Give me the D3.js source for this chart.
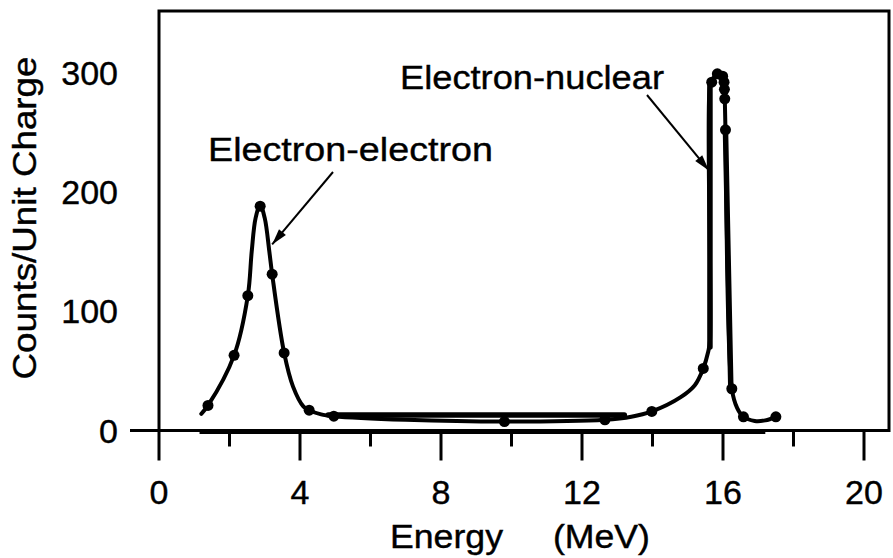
<!DOCTYPE html>
<html lang="en">
    <head>
        <meta charset="utf-8">
        <title>Energy spectrum</title>
        <script type="text/javascript" src="https://cdn.jsdelivr.net/npm/d3@7/dist/d3.min.js"></script>
        <style type="text/css">
            body { margin: 0; background: #fff; }
            text { font-family: "Liberation Sans", Arial, Helvetica, sans-serif; fill: #000; stroke: #000; stroke-width: 0.4; }
            .frame { fill: none; stroke: #000; stroke-width: 3; }
            .curve { fill: none; stroke: #000; stroke-width: 4; stroke-linejoin: round; stroke-linecap: round; }
            .thick { fill: none; stroke: #000; stroke-width: 5.5; stroke-linecap: round; }
            .arrow { stroke: #000; stroke-width: 2; }
        </style>
    </head>
    <body>

        <script type="text/javascript">

        //Width and height
        var w = 893;
        var h = 558;

        //measured points (dots)
        var dotEnergy = [1.39, 2.13, 2.52, 2.87, 3.21, 3.55, 4.26, 4.96, 9.8, 12.65, 13.98, 15.44,
                         15.68, 15.84, 15.99, 16.03, 16.04, 16.05, 16.07, 16.25, 16.58, 17.5];
        var dotCounts = [21, 63, 113, 188, 131, 65, 17, 12, 7.5, 9, 16, 52,
                         292, 299, 297, 292, 286, 278, 252, 35, 11.5, 11.5];

        //hand drawn curve through the points
        var curveEnergy = [1.2, 1.39, 2.13, 2.52, 2.63, 2.74, 2.87, 3.0, 3.13, 3.21, 3.55, 3.8, 4.1, 4.26, 4.6, 4.96,
                           7, 9.8, 12.65, 13.4, 13.98, 14.8, 15.2, 15.44, 15.58, 15.63, 15.63, 15.68, 15.84, 15.99,
                           16.03, 16.05, 16.07, 16.25, 16.4, 16.58, 16.9, 17.2, 17.5];
        var curveCounts = [14, 21, 63, 113, 150, 178, 189, 178, 150, 131, 65, 37, 20, 17, 13.5, 12,
                           9, 7.5, 9, 11.5, 16, 28, 38, 52, 66, 75, 290, 293, 299, 297,
                           292, 278, 252, 35, 19, 11.5, 8, 8.5, 11.5];

        //heavy strokes drawn over the curve
        var flatEnergy = [4.8, 13.2];
        var flatCounts = [13, 13];
        var leftEdgeEnergy = [15.63, 15.63];
        var leftEdgeCounts = [70, 292];
        var rightEdgeEnergy = [16.07, 16.22];
        var rightEdgeCounts = [252, 38];

        //axis ticks
        var xMajorTicks = [0, 4, 8, 12, 16, 20];
        var xMinorTicks = [2, 6, 10, 14, 18];
        var yTicks = [0, 100, 200, 300];

        var zip = function(a, b){
            return a.map(function(v, i){ return { e: v, c: b[i] }; });
        };

        var xScale = d3.scaleLinear().domain([0, 20]).range([159, 864]);
        var yScale = d3.scaleLinear().domain([0, 300]).range([430.5, 72.6]);

        var line = d3.line()
            .x(function(d){ return xScale(d.e); })
            .y(function(d){ return yScale(d.c); });

        var smooth = d3.line()
            .curve(d3.curveCatmullRom.alpha(0.5))
            .x(function(d){ return xScale(d.e); })
            .y(function(d){ return yScale(d.c); });

        var svg = d3.select("body")
            .append("svg")
            .attr("width", w)
            .attr("height", h);

        //frame
        var x0 = xScale(0), yTop = 11, xRight = 889, yBase = yScale(0);
        svg.append("path")
            .attr("class", "frame")
            .attr("d", "M" + x0 + "," + (yBase + 30) + "V" + yTop + "H" + xRight + "V" + yBase + "H" + 130);

        //doubled baseline under the axis
        svg.append("line")
            .attr("class", "frame")
            .attr("x1", xScale(1.15)).attr("x2", xScale(17.2))
            .attr("y1", yBase + 2).attr("y2", yBase + 2);

        //x ticks
        svg.selectAll(".major")
            .data(xMajorTicks.slice(1))
            .enter().append("line")
            .attr("class", "frame")
            .attr("x1", function(d){ return xScale(d); })
            .attr("x2", function(d){ return xScale(d); })
            .attr("y1", yBase).attr("y2", yBase + 30);

        svg.selectAll(".minor")
            .data(xMinorTicks)
            .enter().append("line")
            .attr("class", "frame")
            .attr("x1", function(d){ return xScale(d); })
            .attr("x2", function(d){ return xScale(d); })
            .attr("y1", yBase).attr("y2", yBase + 16);

        svg.selectAll(".xlab")
            .data(xMajorTicks)
            .enter().append("text")
            .attr("x", function(d){ return xScale(d); })
            .attr("y", yBase + 73)
            .attr("text-anchor", "middle")
            .attr("font-size", 34)
            .text(function(d){ return d; });

        svg.selectAll(".ylab")
            .data(yTicks)
            .enter().append("text")
            .attr("x", 118)
            .attr("y", function(d){ return yScale(d) + 12; })
            .attr("text-anchor", "end")
            .attr("font-size", 34)
            .text(function(d){ return d; });

        //axis titles
        svg.append("text")
            .attr("x", 390).attr("y", 548)
            .attr("font-size", 33)
            .attr("textLength", 113).attr("lengthAdjust", "spacingAndGlyphs")
            .text("Energy");
        svg.append("text")
            .attr("x", 553).attr("y", 548)
            .attr("font-size", 33)
            .attr("textLength", 97).attr("lengthAdjust", "spacingAndGlyphs")
            .text("(MeV)");

        svg.append("text")
            .attr("transform", "translate(36,218) rotate(-90)")
            .attr("text-anchor", "middle")
            .attr("font-size", 33)
            .attr("textLength", 323).attr("lengthAdjust", "spacingAndGlyphs")
            .text("Counts/Unit Charge");

        //curve
        svg.append("path")
            .datum(zip(curveEnergy, curveCounts))
            .attr("class", "curve")
            .attr("d", smooth);

        [[flatEnergy, flatCounts], [leftEdgeEnergy, leftEdgeCounts], [rightEdgeEnergy, rightEdgeCounts]].forEach(function(p){
            svg.append("path")
                .datum(zip(p[0], p[1]))
                .attr("class", "thick")
                .attr("d", line);
        });

        svg.selectAll(".dot")
            .data(zip(dotEnergy, dotCounts))
            .enter().append("circle")
            .attr("cx", function(d){ return xScale(d.e); })
            .attr("cy", function(d){ return yScale(d.c); })
            .attr("r", 5.5);

        //annotations
        var arrowHead = function(x1, y1, x2, y2){
            var a = Math.atan2(y2 - y1, x2 - x1), len = 16, half = 4.5;
            var bx = x2 - len * Math.cos(a), by = y2 - len * Math.sin(a);
            return "M" + x2 + "," + y2 +
                "L" + (bx + half * Math.sin(a)) + "," + (by - half * Math.cos(a)) +
                "L" + (bx - half * Math.sin(a)) + "," + (by + half * Math.cos(a)) + "Z";
        };

        var notes = [
            { label: "Electron-electron", tx: 208, ty: 161, len: 285, x1: 333, y1: 172, e: 3.21, c: 156 },
            { label: "Electron-nuclear", tx: 400, ty: 89, len: 264, x1: 647, y1: 95, e: 15.6, c: 218 }
        ];

        notes.forEach(function(n){
            var x2 = xScale(n.e), y2 = yScale(n.c);
            svg.append("text")
                .attr("x", n.tx).attr("y", n.ty)
                .attr("font-size", 34)
                .attr("textLength", n.len).attr("lengthAdjust", "spacingAndGlyphs")
                .text(n.label);
            svg.append("line")
                .attr("class", "arrow")
                .attr("x1", n.x1).attr("y1", n.y1)
                .attr("x2", x2).attr("y2", y2);
            svg.append("path")
                .attr("d", arrowHead(n.x1, n.y1, x2, y2));
        });

        </script>
    </body>
</html>
